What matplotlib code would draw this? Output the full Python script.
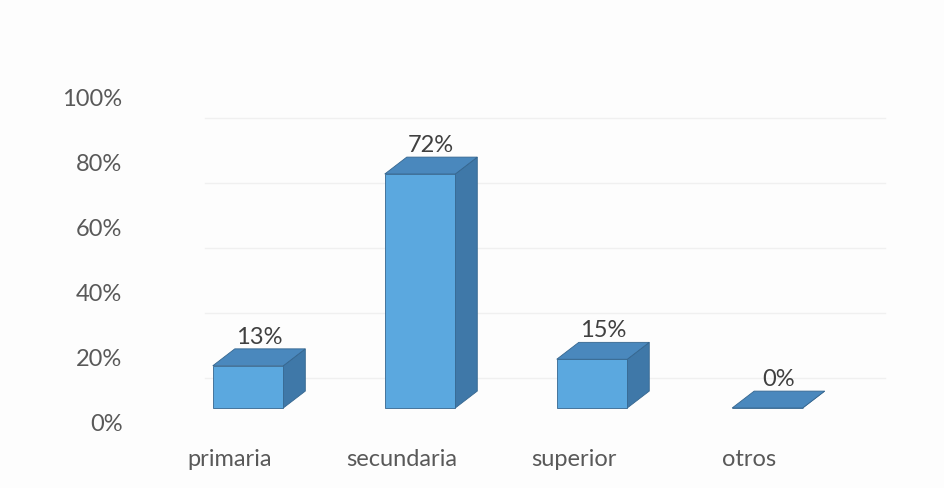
import numpy as np
import matplotlib.pyplot as plt
from matplotlib.patches import Polygon

# data
categories = ["primaria", "secundaria", "superior", "otros"]
values = [13, 72, 15, 0]
value_labels = ["13%", "72%", "15%", "0%"]
tick_values = [0, 20, 40, 60, 80, 100]
tick_labels = ["0%", "20%", "40%", "60%", "80%", "100%"]

# look
front_color = "#5ba8df"
top_color = "#4a88bd"
side_color = "#3f78a8"
edge_color = "#35668f"
text_color = "#595959"
bar_w = 0.41
dx, dy = 0.128, 5.2

plt.rcParams["font.family"] = ["Lato", "DejaVu Sans"]

fig = plt.figure(figsize=(9.45, 4.88), dpi=100)
fig.patch.set_facecolor("#fdfdfd")
ax = fig.add_axes([128 / 945, 47.5 / 488, 772 / 945, 390 / 488])
ax.set_facecolor("none")
ax.set_xlim(-0.698, 3.791)
ax.set_ylim(-10, 110)

x = np.array([0, 1, 2, 3.02])

# faint back-wall lines
for t in tick_values[:-1]:
    ax.axhline(t + 9.3, xmin=0.1, xmax=0.98, color="#f0f0f0", lw=1, zorder=0)

for xi, v, lab in zip(x, values, value_labels):
    l, r = xi - bar_w / 2, xi + bar_w / 2
    side = Polygon([(r, 0), (r + dx, dy), (r + dx, v + dy), (r, v)],
                   closed=True, facecolor=side_color, edgecolor=edge_color, lw=0.6, zorder=2)
    top = Polygon([(l, v), (r, v), (r + dx, v + dy), (l + dx, v + dy)],
                  closed=True, facecolor=top_color, edgecolor=edge_color, lw=0.6, zorder=2)
    ax.add_patch(side)
    ax.add_patch(top)
    ax.text(xi + dx / 2, v + dy + 3.6, lab, ha="center", va="center",
            fontsize=17, color="#404040")

ax.bar(x, values, width=bar_w, color=front_color, edgecolor=edge_color, lw=0.6, zorder=3)

ax.set_yticks(np.array(tick_values) - 4.6, tick_labels)
ax.set_xticks(x - 0.105, categories)
ax.tick_params(axis="y", length=0, pad=4, labelsize=17, labelcolor=text_color)
ax.tick_params(axis="x", length=0, pad=6, labelsize=17, labelcolor=text_color)
for s in ax.spines.values():
    s.set_visible(False)

fig.savefig("out.png", dpi=100, facecolor=fig.get_facecolor())
